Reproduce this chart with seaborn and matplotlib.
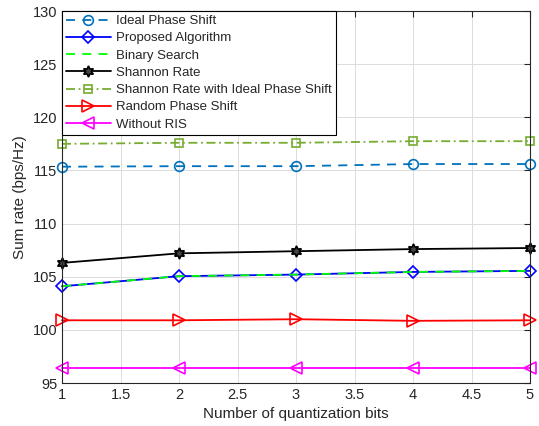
import matplotlib
matplotlib.use("Agg")
import matplotlib.pyplot as plt
import seaborn as sns
import numpy as np

bits = [1, 2, 3, 4, 5]
ideal_phase = [115.35, 115.4, 115.4, 115.6, 115.6]
proposed = [104.1, 105.05, 105.2, 105.45, 105.55]
binary_search = [104.1, 105.05, 105.2, 105.45, 105.55]
shannon = [106.3, 107.2, 107.4, 107.6, 107.7]
shannon_ideal = [117.5, 117.6, 117.6, 117.75, 117.75]
random_phase = [100.9, 100.9, 101.0, 100.85, 100.9]
without_ris = [96.45, 96.45, 96.45, 96.45, 96.45]

labels = ["Ideal Phase Shift", "Proposed Algorithm", "Binary Search", "Shannon Rate",
          "Shannon Rate with Ideal Phase Shift", "Random Phase Shift", "Without RIS"]
xticks = [1, 1.5, 2, 2.5, 3, 3.5, 4, 4.5, 5]
yticks = [95, 100, 105, 110, 115, 120, 125, 130]

sns.set_style("white")
plt.rcParams['font.family'] = ['Liberation Sans', 'DejaVu Sans']

fig = plt.figure(figsize=(5.39, 4.26), dpi=100)
ax = fig.add_axes([62/539, 1-383/426, (530-62)/539, (383-11)/426])

styles = [
    (ideal_phase, "#0072BD", dict(linestyle=(0, (5, 4)), marker="o", markersize=7,
                                  markerfacecolor="none")),
    (proposed, "#0000FF", dict(linestyle="-", marker="D", markersize=6,
                               markerfacecolor="none")),
    (binary_search, "#00FF00", dict(linestyle=(0, (5, 4)), marker="")),
    (shannon, "#000000", dict(linestyle="-", marker=(6, 1, 0), markersize=8,
                              markerfacecolor="#444444")),
    (shannon_ideal, "#77AC30", dict(linestyle=(0, (5, 2, 1, 2)), marker="s", markersize=6,
                                    markerfacecolor="none")),
    (random_phase, "#FF0000", dict(linestyle="-", marker=">", markersize=8,
                                   markerfacecolor="none")),
    (without_ris, "#FF00FF", dict(linestyle="-", marker="<", markersize=8,
                                  markerfacecolor="none")),
]

for (vals, col, st), lab in zip(styles, labels):
    sns.lineplot(x=bits, y=vals, ax=ax, label=lab, color=col, linewidth=1.3,
                 clip_on=False, markeredgecolor=col, markeredgewidth=1.2, **st)

ax.set_xlim(1, 5)
ax.set_ylim(95, 130)
ax.set_xticks(xticks)
ax.set_xticklabels([f"{t:g}" for t in xticks])
ax.set_yticks(yticks)
ax.grid(True, color="#DCDCDC", linewidth=0.7)
ax.set_axisbelow(True)
for s in ax.spines.values():
    s.set_color("#262626")
    s.set_linewidth(0.8)
ax.tick_params(direction="in", top=True, right=True, length=4, width=0.8,
               labelsize=10.5, colors="#262626")
ax.set_xlabel("Number of quantization bits", fontsize=11, color="#262626")
ax.set_ylabel("Sum rate (bps/Hz)", fontsize=11, color="#262626")

leg = ax.legend(loc="upper left", fontsize=9.5, frameon=True, fancybox=False,
                edgecolor="#000000", framealpha=1, handlelength=3.4, labelspacing=0.38,
                borderpad=0.3, borderaxespad=0.0, handletextpad=0.4)
leg.get_frame().set_linewidth(0.8)

fig.savefig("out.png", dpi=100)
